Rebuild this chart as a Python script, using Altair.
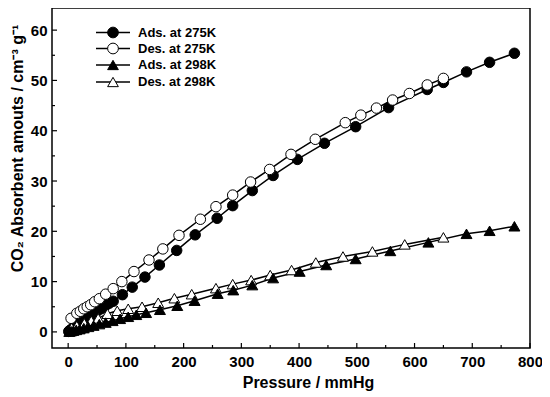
import altair as alt
import pandas as pd

# ---------------- data ----------------
ads275_p = [1, 3, 6, 10, 14, 19, 24, 30, 36, 43, 50, 57, 64, 71, 78, 94, 111, 133, 158, 188,
            220, 258, 285, 319, 355, 397, 444, 498, 555, 622, 650, 690, 730, 773]
ads275_v = [0.1, 0.3, 0.55, 0.9, 1.25, 1.65, 2.05, 2.5, 3.0, 3.55, 4.1, 4.6, 5.15, 5.7, 6.1, 7.4,
            8.9, 10.9, 13.3, 16.2, 19.3, 22.6, 25.1, 28.1, 31.1, 34.3, 37.5, 40.8, 44.6, 48.2,
            49.6, 51.7, 53.6, 55.4]

des275_p = [5, 15, 21, 27, 33, 39, 46, 54, 65, 78, 93, 114, 140, 164, 192, 229, 256, 285, 316,
            349, 386, 428, 480, 507, 534, 562, 591, 622, 650]
des275_v = [2.7, 3.7, 4.1, 4.6, 5.0, 5.4, 6.0, 6.6, 7.5, 8.6, 10.0, 12.0, 14.3, 16.5, 19.2, 22.4,
            24.9, 27.2, 29.8, 32.3, 35.3, 38.3, 41.6, 43.1, 44.5, 46.1, 47.4, 49.1, 50.4]

ads298_p = [2, 5, 9, 14, 20, 27, 35, 44, 54, 65, 77, 90, 104, 118, 135, 159, 189, 219, 259, 286,
            319, 355, 401, 447, 498, 558, 624, 690, 730, 773]
ads298_v = [0.05, 0.15, 0.25, 0.4, 0.55, 0.75, 1.0, 1.25, 1.55, 1.85, 2.2, 2.6, 3.0, 3.4, 3.8,
            4.4, 5.2, 6.2, 7.6, 8.3, 9.3, 10.7, 12.0, 13.3, 14.5, 16.1, 17.8, 19.5, 20.1, 21.0]

des298_p = [6, 15, 28, 40, 52, 68, 85, 104, 128, 156, 184, 214, 256, 285, 317, 350, 387, 429,
            476, 527, 583, 650]
des298_v = [0.8, 1.2, 1.7, 2.2, 2.7, 3.6, 4.2, 4.6, 5.0, 5.8, 6.7, 7.5, 8.7, 9.5, 10.3, 11.3,
            12.3, 13.8, 15.0, 16.0, 17.4, 18.8]

series_labels = ["Ads. at 275K", "Des. at 275K", "Ads. at 298K", "Des. at 298K"]
series_shapes = ["circle", "circle", "triangle-up", "triangle-up"]
series_fills = ["black", "white", "black", "white"]

x_major = list(range(0, 801, 100))
x_minor = list(range(50, 800, 100))
y_major = list(range(0, 61, 10))
y_minor = list(range(5, 60, 10))

# ---------------- layout ----------------
W, H = 478, 340
FONT = "Liberation Sans"
xs = alt.Scale(domain=[-28, 800], nice=False, zero=False)
ys = alt.Scale(domain=[-3.2, 64.4], nice=False, zero=False)

xaxis = alt.Axis(title="Pressure / mmHg", values=x_major, ticks=False, domain=False,
                 grid=False, labelFlush=False, labelPadding=6, titlePadding=5,
                 titleX=256, titleAlign="center")
yaxis = alt.Axis(title="CO\u2082 Absorbent amouts / cm\u207b\u00b3 g\u207b\u00b9", values=y_major,
                 ticks=False, domain=False, grid=False, labelPadding=5,
                 titleX=-35, titleY=140, titleAngle=270, titleAlign="center",
                 titleBaseline="middle")

X = alt.X("p:Q", scale=xs, axis=xaxis)
Y = alt.Y("v:Q", scale=ys, axis=yaxis)


def sdf(p, v):
    return pd.DataFrame({"p": p, "v": v, "i": list(range(len(p)))})


data = [sdf(ads275_p, ads275_v), sdf(des275_p, des275_v),
        sdf(ads298_p, ads298_v), sdf(des298_p, des298_v)]

layers = []
# lines
for d in data:
    layers.append(
        alt.Chart(d).mark_line(color="black", strokeWidth=1.5).encode(x=X, y=Y, order="i:Q")
    )
# markers
for k in [0, 1, 3, 2]:
    size = 110 if series_shapes[k] == "circle" else 120
    layers.append(
        alt.Chart(data[k]).mark_point(shape=series_shapes[k], filled=True, fill=series_fills[k],
                                      stroke="black", strokeWidth=1, size=size, opacity=1
                                      ).encode(x=X, y=Y)
    )


# inward ticks
def xticks(vals, ln):
    return alt.Chart(pd.DataFrame({"p": vals})).mark_rule(color="black", strokeWidth=1.2).encode(
        x=X, y=alt.value(H), y2=alt.value(H - ln))


def yticks(vals, ln):
    return alt.Chart(pd.DataFrame({"v": vals})).mark_rule(color="black", strokeWidth=1.2).encode(
        y=Y, x=alt.value(0), x2=alt.value(ln))


layers += [xticks(x_major, 5), xticks(x_minor, 3), yticks(y_major, 5), yticks(y_minor, 3)]

# legend
leg = pd.DataFrame({
    "label": series_labels,
    "shape": series_shapes,
    "fill": series_fills,
    "ly": [24.5, 40.5, 57.0, 74.0],
})
layers.append(
    alt.Chart(leg).mark_rule(color="black", strokeWidth=1.5).encode(
        x=alt.value(44), x2=alt.value(78), y=alt.Y("ly:Q", scale=None))
)
layers.append(
    alt.Chart(leg).mark_point(filled=True, stroke="black", strokeWidth=1, size=115, opacity=1).encode(
        x=alt.value(61), y=alt.Y("ly:Q", scale=None),
        shape=alt.Shape("shape:N", scale=None),
        fill=alt.Fill("fill:N", scale=None))
)
layers.append(
    alt.Chart(leg).mark_text(align="left", baseline="middle", font=FONT, fontWeight="bold",
                             fontSize=13, color="black").encode(
        x=alt.value(86), y=alt.Y("ly:Q", scale=None), text="label:N")
)

chart = alt.layer(*layers).properties(
    width=W, height=H,
    autosize=alt.AutoSizeParams(type="none"),
    padding={"left": 44, "top": 0, "right": 12, "bottom": 47},
).configure_view(
    stroke="black", strokeWidth=1.5
).configure_axis(
    labelFont=FONT, labelFontSize=15, labelFontWeight="bold", labelColor="black",
    titleFont=FONT, titleFontSize=16, titleFontWeight="bold", titleColor="black",
)

chart.save("out.html", embed_options={"renderer": "svg", "actions": False})
